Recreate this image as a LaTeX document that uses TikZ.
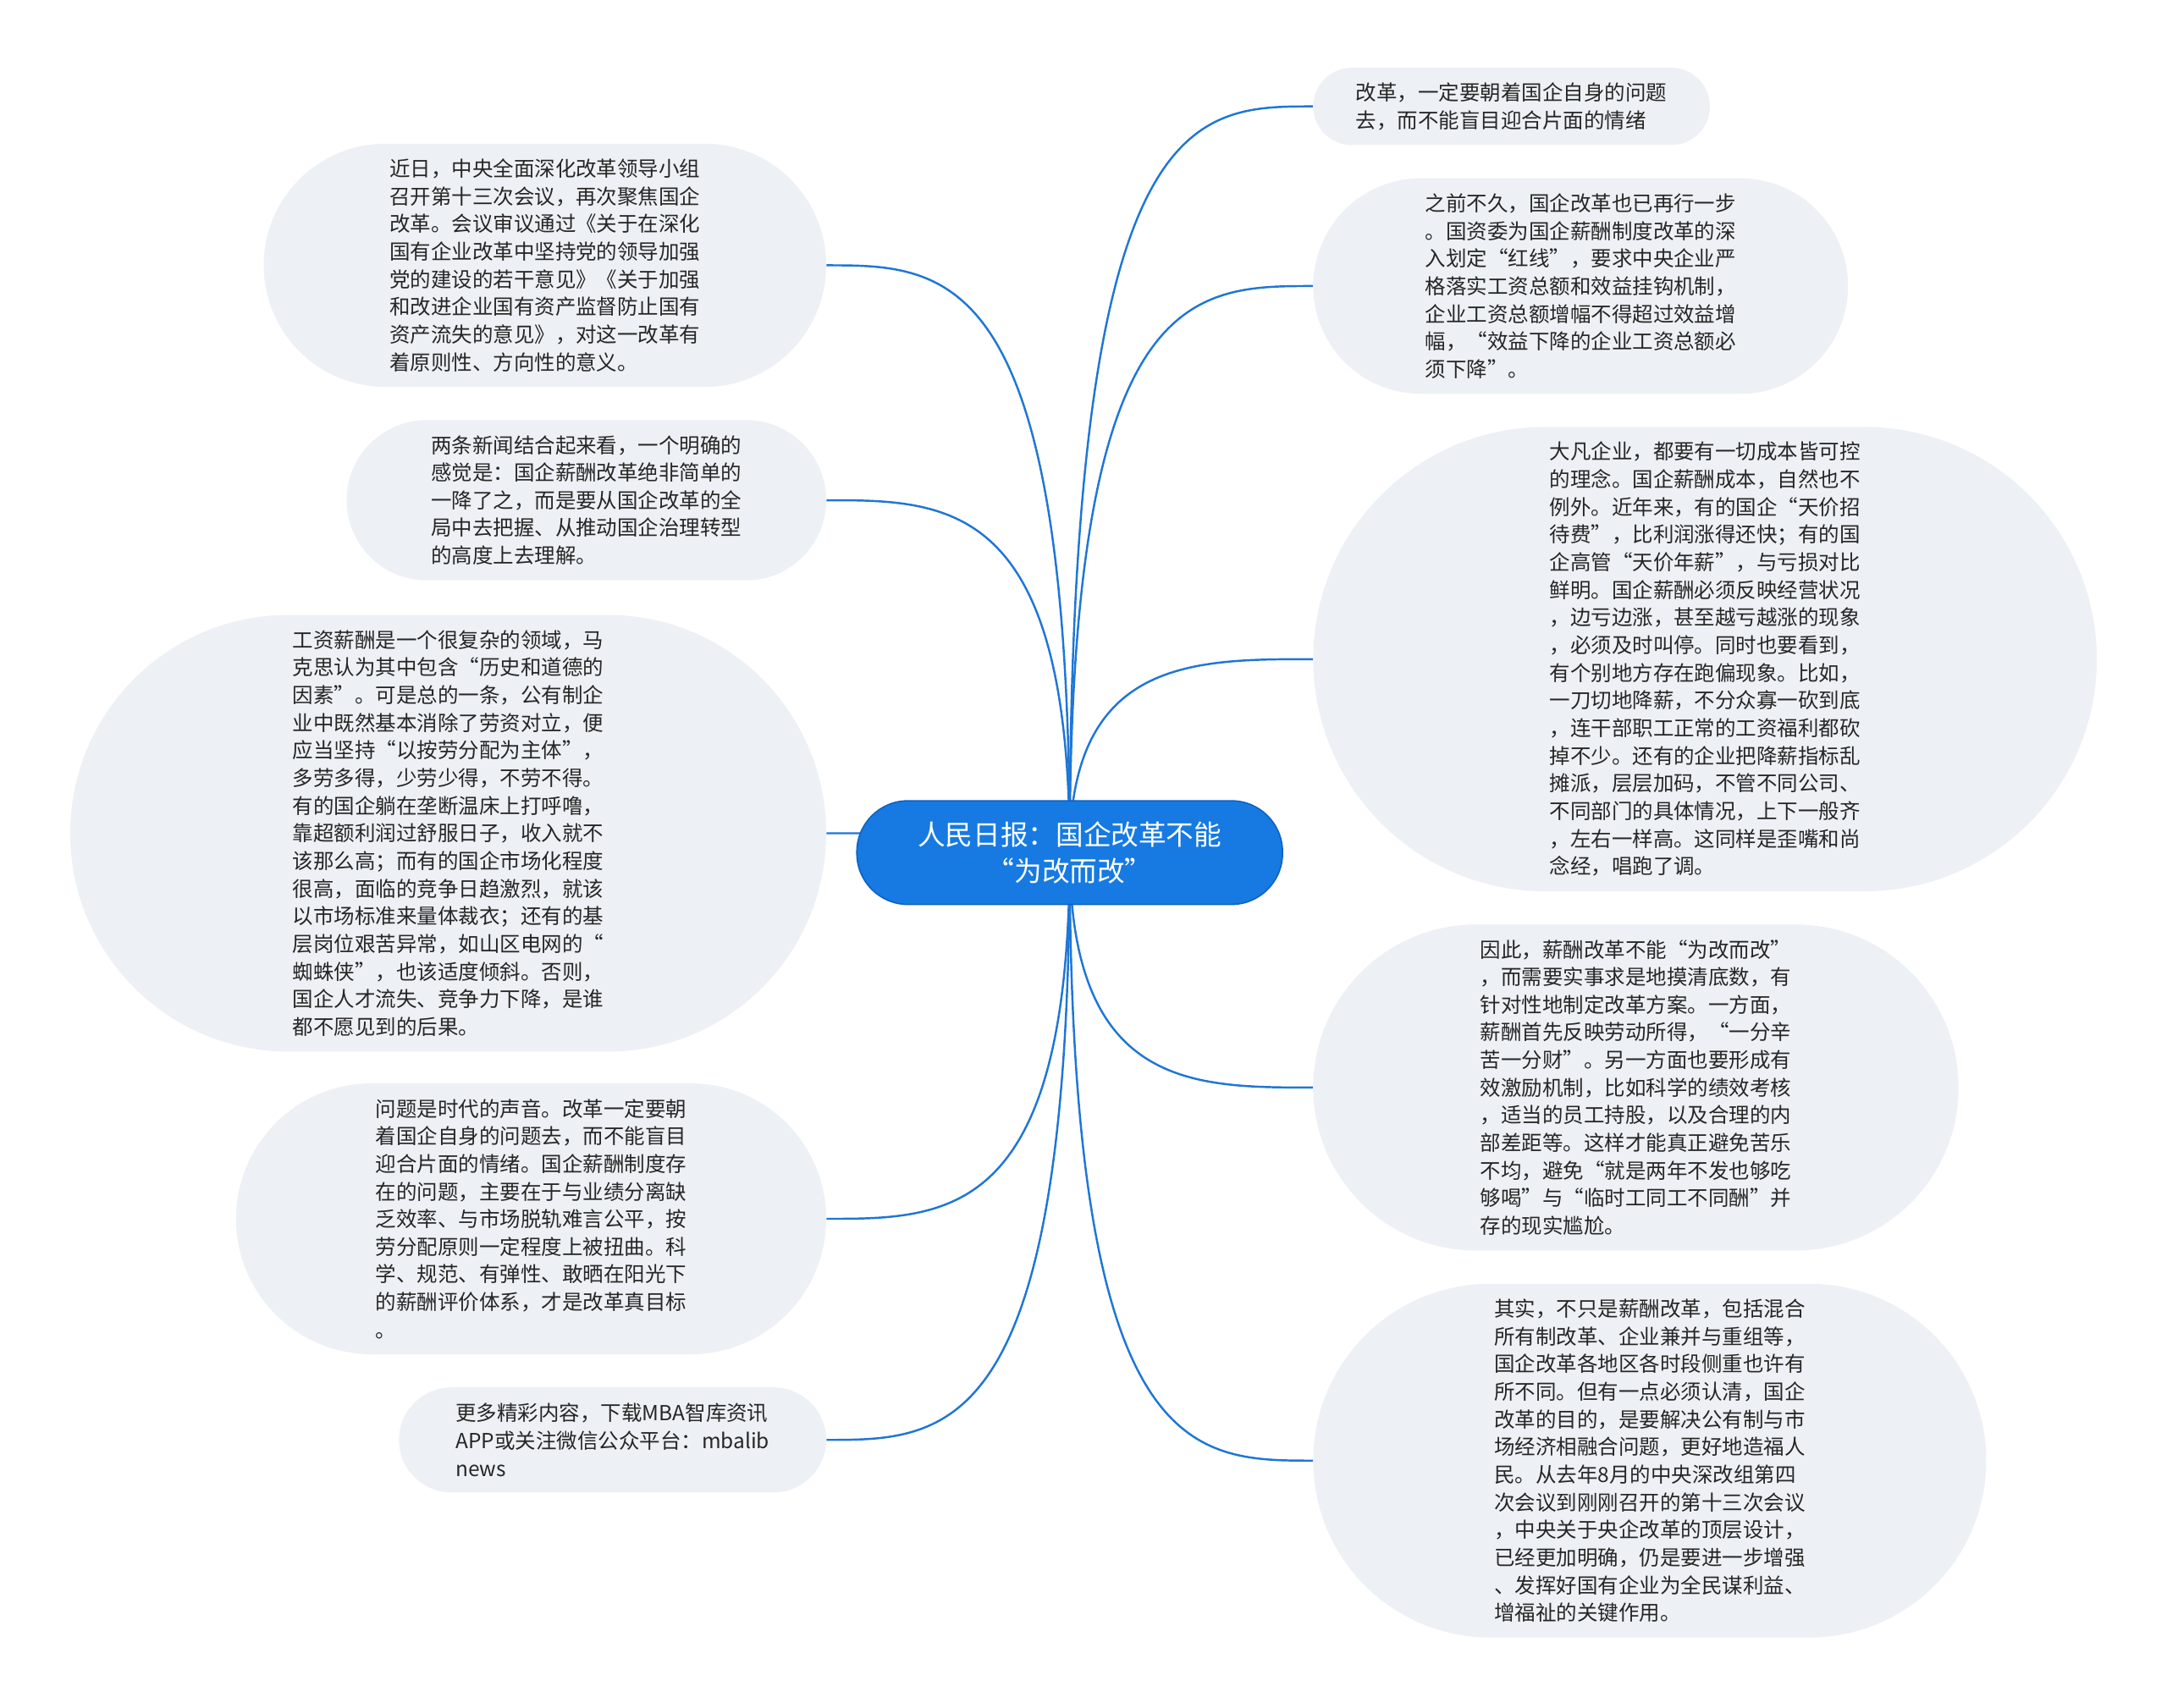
\documentclass[tikz,border=0pt]{standalone}
\usepackage{fontspec}
\setmainfont{Noto Sans CJK SC}
\usepackage{xcolor}
\usepackage{tikz}
\usetikzlibrary{backgrounds, calc}
\definecolor{RootBlue}{RGB}{22, 122, 226}
\definecolor{RootLine}{RGB}{12, 98, 196}
\definecolor{LinkBlue}{RGB}{30, 118, 214}
\definecolor{LeafGrey}{RGB}{237, 241, 245}
\definecolor{LeafText}{RGB}{38, 38, 38}

\begin{document}
\begin{tikzpicture}[
  x=1pt, y=-1pt,
  font=\fontsize{15pt}{20pt}\selectfont,
  root/.style={rectangle, rounded corners=37pt, draw=RootLine, line width=1pt,
               fill=RootBlue, text=white, align=center,
               font=\fontsize{20pt}{26pt}\selectfont,
               inner xsep=44pt, inner ysep=2pt, minimum height=75pt},
  leaf/.style={rectangle, rounded corners=#1pt, fill=LeafGrey, text=LeafText,
               align=left, inner xsep=#1pt+3pt, inner ysep=2pt,
               minimum height=2*#1pt},
  link/.style={LinkBlue, line width=1.5pt},
]
\useasboundingbox (0,0) rectangle (1568,1236);

\node[root] (root) at (774,617) {人民日报：国企改革不能\\“为改而改”};

% right side
\node[leaf=28, anchor=west] (r1) at (950,77) {改革，一定要朝着国企自身的问题\\去，而不能盲目迎合片面的情绪};
\node[leaf=78, anchor=west] (r2) at (950,207) {之前不久，国企改革也已再行一步\\。国资委为国企薪酬制度改革的深\\入划定“红线”，要求中央企业严\\格落实工资总额和效益挂钩机制，\\企业工资总额增幅不得超过效益增\\幅，“效益下降的企业工资总额必\\须下降”。};
\node[leaf=168, anchor=west] (r3) at (950,477) {大凡企业，都要有一切成本皆可控\\的理念。国企薪酬成本，自然也不\\例外。近年来，有的国企“天价招\\待费”，比利润涨得还快；有的国\\企高管“天价年薪”，与亏损对比\\鲜明。国企薪酬必须反映经营状况\\，边亏边涨，甚至越亏越涨的现象\\，必须及时叫停。同时也要看到，\\有个别地方存在跑偏现象。比如，\\一刀切地降薪，不分众寡一砍到底\\，连干部职工正常的工资福利都砍\\掉不少。还有的企业把降薪指标乱\\摊派，层层加码，不管不同公司、\\不同部门的具体情况，上下一般齐\\，左右一样高。这同样是歪嘴和尚\\念经，唱跑了调。};
\node[leaf=118, anchor=west] (r4) at (950,787) {因此，薪酬改革不能“为改而改”\\，而需要实事求是地摸清底数，有\\针对性地制定改革方案。一方面，\\薪酬首先反映劳动所得，“一分辛\\苦一分财”。另一方面也要形成有\\效激励机制，比如科学的绩效考核\\，适当的员工持股，以及合理的内\\部差距等。这样才能真正避免苦乐\\不均，避免“就是两年不发也够吃\\够喝”与“临时工同工不同酬”并\\存的现实尴尬。};
\node[leaf=128, anchor=west] (r5) at (950,1057) {其实，不只是薪酬改革，包括混合\\所有制改革、企业兼并与重组等，\\国企改革各地区各时段侧重也许有\\所不同。但有一点必须认清，国企\\改革的目的，是要解决公有制与市\\场经济相融合问题，更好地造福人\\民。从去年8月的中央深改组第四\\次会议到刚刚召开的第十三次会议\\，中央关于央企改革的顶层设计，\\已经更加明确，仍是要进一步增强\\、发挥好国有企业为全民谋利益、\\增福祉的关键作用。};

% left side
\node[leaf=88, anchor=east] (l1) at (598,192) {近日，中央全面深化改革领导小组\\召开第十三次会议，再次聚焦国企\\改革。会议审议通过《关于在深化\\国有企业改革中坚持党的领导加强\\党的建设的若干意见》《关于加强\\和改进企业国有资产监督防止国有\\资产流失的意见》，对这一改革有\\着原则性、方向性的意义。};
\node[leaf=58, anchor=east] (l2) at (598,362) {两条新闻结合起来看，一个明确的\\感觉是：国企薪酬改革绝非简单的\\一降了之，而是要从国企改革的全\\局中去把握、从推动国企治理转型\\的高度上去理解。};
\node[leaf=158, anchor=east] (l3) at (598,603) {工资薪酬是一个很复杂的领域，马\\克思认为其中包含“历史和道德的\\因素”。可是总的一条，公有制企\\业中既然基本消除了劳资对立，便\\应当坚持“以按劳分配为主体”，\\多劳多得，少劳少得，不劳不得。\\有的国企躺在垄断温床上打呼噜，\\靠超额利润过舒服日子，收入就不\\该那么高；而有的国企市场化程度\\很高，面临的竞争日趋激烈，就该\\以市场标准来量体裁衣；还有的基\\层岗位艰苦异常，如山区电网的“\\蜘蛛侠”，也该适度倾斜。否则，\\国企人才流失、竞争力下降，是谁\\都不愿见到的后果。};
\node[leaf=98, anchor=east] (l4) at (598,882) {问题是时代的声音。改革一定要朝\\着国企自身的问题去，而不能盲目\\迎合片面的情绪。国企薪酬制度存\\在的问题，主要在于与业绩分离缺\\乏效率、与市场脱轨难言公平，按\\劳分配原则一定程度上被扭曲。科\\学、规范、有弹性、敢晒在阳光下\\的薪酬评价体系，才是改革真目标\\。};
\node[leaf=38, anchor=east] (l5) at (598,1042) {更多精彩内容，下载MBA智库资讯\\APP或关注微信公众平台：mbalib\\news};

\begin{scope}[on background layer]
\fill[white] (0,0) rectangle (1568,1236);
\draw[link] (root.center) .. controls (root.center |- r1.west) and ($(root.center |- r1.west)!0.5!(r1.west)$) .. (r1.west);
\draw[link] (root.center) .. controls (root.center |- r2.west) and ($(root.center |- r2.west)!0.5!(r2.west)$) .. (r2.west);
\draw[link] (root.center) .. controls (root.center |- r3.west) and ($(root.center |- r3.west)!0.5!(r3.west)$) .. (r3.west);
\draw[link] (root.center) .. controls (root.center |- r4.west) and ($(root.center |- r4.west)!0.5!(r4.west)$) .. (r4.west);
\draw[link] (root.center) .. controls (root.center |- r5.west) and ($(root.center |- r5.west)!0.5!(r5.west)$) .. (r5.west);
\draw[link] (root.center) .. controls (root.center |- l1.east) and ($(root.center |- l1.east)!0.5!(l1.east)$) .. (l1.east);
\draw[link] (root.center) .. controls (root.center |- l2.east) and ($(root.center |- l2.east)!0.5!(l2.east)$) .. (l2.east);
\draw[link] (root.center) .. controls (root.center |- l3.east) and ($(root.center |- l3.east)!0.5!(l3.east)$) .. (l3.east);
\draw[link] (root.center) .. controls (root.center |- l4.east) and ($(root.center |- l4.east)!0.5!(l4.east)$) .. (l4.east);
\draw[link] (root.center) .. controls (root.center |- l5.east) and ($(root.center |- l5.east)!0.5!(l5.east)$) .. (l5.east);
\end{scope}
\end{tikzpicture}
\end{document}
